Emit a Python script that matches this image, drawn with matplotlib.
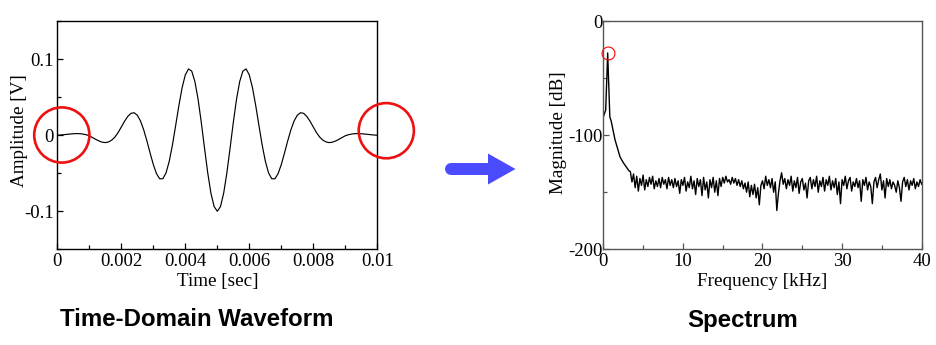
import matplotlib
matplotlib.use("Agg")
import matplotlib.pyplot as plt
from matplotlib.patches import Circle, Polygon
from matplotlib.ticker import MultipleLocator, FixedLocator, FixedFormatter

plt.rcParams['axes.unicode_minus'] = False

# ---- time-domain waveform (sampled every 0.1 ms) ----
time_s = [i * 0.0001 for i in range(101)]
amplitude_v = [
    -0.00015, 0.00017, 0.00058, 0.00104, 0.00149, 0.00186, 0.00204, 0.00193, 0.00146, 0.00058,
    -0.00080, -0.00313, -0.00547, -0.00763, -0.00921, -0.00978, -0.00897, -0.00656, -0.00255, 0.00334,
    0.01068, 0.01811, 0.02449, 0.02864, 0.02948, 0.02622, 0.01862, 0.00701, -0.00757, -0.02347,
    -0.03857, -0.05060, -0.05737, -0.05725, -0.04938, -0.03399, -0.01240, 0.01299, 0.03906, 0.06224,
    0.07916, 0.08703, 0.08420, 0.07043, 0.04701, 0.01663, -0.01689, -0.04923, -0.07608, -0.09381,
    -0.10000,
    -0.09381, -0.07608, -0.04923, -0.01689, 0.01663, 0.04701, 0.07043, 0.08420, 0.08703, 0.07916,
    0.06224, 0.03906, 0.01299, -0.01240, -0.03399, -0.04938, -0.05725, -0.05737, -0.05060, -0.03857,
    -0.02347, -0.00757, 0.00701, 0.01862, 0.02622, 0.02948, 0.02864, 0.02449, 0.01811, 0.01068,
    0.00334, -0.00255, -0.00656, -0.00897, -0.00978, -0.00921, -0.00763, -0.00547, -0.00313, -0.00080,
    0.00058, 0.00146, 0.00193, 0.00204, 0.00186, 0.00149, 0.00104, 0.00058, 0.00017, -0.00015,
]
time_ticks = [0, 0.002, 0.004, 0.006, 0.008, 0.01]
time_ticklabels = ['0', '0.002', '0.004', '0.006', '0.008', '0.01']
amp_ticks = [-0.1, 0, 0.1]
amp_ticklabels = ['-0.1', '0', '0.1']

# ---- magnitude spectrum ----
peak_freq_khz = [0.0, 0.3, 0.55, 0.82, 1.0, 1.2, 1.47, 1.8, 2.1, 2.5, 2.9, 3.2]
peak_mag_db = [-84, -78, -28, -84, -88, -95, -104, -112, -119, -124, -128, -131]
floor_freq_khz = [round(3.4 + 0.2 * i, 1) for i in range(184)]
floor_mag_db = [
    -132, -141, -134,
    -146, -136, -149, -138, -144,
    -135, -148, -139, -145, -137,
    -143, -136, -147, -140, -145,
    -138, -146, -137, -143, -139,
    -147, -137, -144, -139, -146,
    -138, -145, -140, -151, -139,
    -144, -137, -149, -141, -146,
    -136, -147, -140, -152, -138,
    -145, -139, -153, -137, -148,
    -141, -155, -139, -146, -137,
    -150, -140, -153, -138, -145,
    -137, -142, -136, -141, -139,
    -143, -137, -142, -138, -144,
    -139, -145, -140, -147, -142,
    -150, -141, -154, -144, -152,
    -143, -155, -146, -161, -144,
    -140, -147, -136, -144, -139,
    -146, -138, -150, -141, -166,
    -151, -140, -133, -143, -138,
    -147, -139, -144, -136, -149,
    -140, -146, -137, -151, -141,
    -138, -148, -142, -155, -140,
    -137, -147, -139, -145, -136,
    -150, -140, -145, -137, -149,
    -139, -144, -136, -148, -140,
    -146, -138, -152, -141, -160,
    -139, -144, -136, -147, -140,
    -137, -149, -141, -145, -138,
    -146, -140, -158, -139, -144,
    -137, -148, -141, -145, -160,
    -141, -137, -146, -139, -134,
    -148, -140, -155, -138, -145,
    -139, -147, -141, -144, -150,
    -140, -146, -158, -141, -137,
    -145, -139, -148, -140, -144,
    -138, -147, -141, -145, -139,
    -143,
]
freq_khz = peak_freq_khz + floor_freq_khz
mag_db = peak_mag_db + floor_mag_db
freq_ticks = [0, 10, 20, 30, 40]
mag_ticks = [-200, -100, 0]

W, H = 936, 345
fig = plt.figure(figsize=(W / 100, H / 100), dpi=100)

serif = 'Liberation Serif'
tick_fs = 13.5
label_fs = 13.8


def style_axes(ax, color, ypad):
    for s in ax.spines.values():
        s.set_color(color)
        s.set_linewidth(1.0)
    ax.tick_params(which='both', direction='in', top=False, right=False, color=color,
                   labelsize=tick_fs, labelfontfamily=serif)
    ax.tick_params(which='major', length=4.3, width=0.9)
    ax.tick_params(which='minor', length=2.9, width=0.9)
    ax.tick_params(axis='y', pad=ypad)
    ax.tick_params(axis='x', pad=3)


# left panel: waveform
ax1 = fig.add_axes([57.3 / W, 1 - 249.3 / H, 320 / W, 228.3 / H])
ax1.plot(time_s, amplitude_v, color='black', lw=0.85)
ax1.set_xlim(0, 0.01)
ax1.set_ylim(-0.15, 0.15)
ax1.xaxis.set_major_locator(FixedLocator(time_ticks))
ax1.xaxis.set_major_formatter(FixedFormatter(time_ticklabels))
ax1.xaxis.set_minor_locator(MultipleLocator(0.001))
ax1.yaxis.set_major_locator(FixedLocator(amp_ticks))
ax1.yaxis.set_major_formatter(FixedFormatter(amp_ticklabels))
ax1.yaxis.set_minor_locator(MultipleLocator(0.05))
style_axes(ax1, 'black', 2.5)
ax1.set_xlabel('Time [sec]', family=serif, fontsize=label_fs, labelpad=2)
ax1.set_ylabel('Amplitude [V]', family=serif, fontsize=label_fs, ha='center', va='center')
ax1.yaxis.set_label_coords((20.0 - 57.3) / 320, 0.52)

# right panel: spectrum
ax2 = fig.add_axes([603.3 / W, 1 - 249.3 / H, 318.4 / W, 228.3 / H])
ax2.plot(freq_khz, mag_db, color='black', lw=1.0)
ax2.set_xlim(0, 40)
ax2.set_ylim(-200, 0)
ax2.xaxis.set_major_locator(FixedLocator(freq_ticks))
ax2.xaxis.set_minor_locator(MultipleLocator(5))
ax2.yaxis.set_major_locator(FixedLocator(mag_ticks))
ax2.yaxis.set_minor_locator(MultipleLocator(50))
style_axes(ax2, '#555555', 0.5)
ax2.tick_params(labelcolor='black')
ax2.set_xlabel('Frequency [kHz]', family=serif, fontsize=label_fs, labelpad=2)
ax2.set_ylabel('Magnitude [dB]', family=serif, fontsize=label_fs, ha='center', va='center')
ax2.yaxis.set_label_coords((558.5 - 603.3) / 318.4, 0.51)

# mark the spectral peak
i_peak = mag_db.index(max(mag_db))
ax2.plot([freq_khz[i_peak]], [mag_db[i_peak]], marker='o', ms=9.3, mfc='none',
         mec='red', mew=0.8, clip_on=False)

# panel captions
fig.text(196.7 / W, 1 - 320 / H, 'Time-Domain Waveform', ha='center', va='center',
         family='Liberation Sans', weight='bold', fontsize=17.3)
fig.text(743 / W, 1 - 320 / H, 'Spectrum', ha='center', va='center',
         family='Liberation Sans', weight='bold', fontsize=17.3)

# overlay in pixel units for the arrow and the end-point circles
ov = fig.add_axes([0, 0, 1, 1], zorder=10)
ov.set_xlim(0, W)
ov.set_ylim(H, 0)
ov.axis('off')
ov.patch.set_alpha(0)

arrow_color = '#4a4aff'
ov.plot([451, 489], [169, 169], color=arrow_color, lw=12 * 0.72, solid_capstyle='round')
ov.add_patch(Polygon([(488, 153.5), (515.5, 169), (488, 184.5)], closed=True,
                     color=arrow_color, lw=0))

for cx, cy in [(61.8, 135.0), (386.3, 130.7)]:
    ov.add_patch(Circle((cx, cy), 27.6, fill=False, edgecolor='#ee1111', lw=1.9,
                        clip_on=False))

fig.savefig('out.png', dpi=100)
